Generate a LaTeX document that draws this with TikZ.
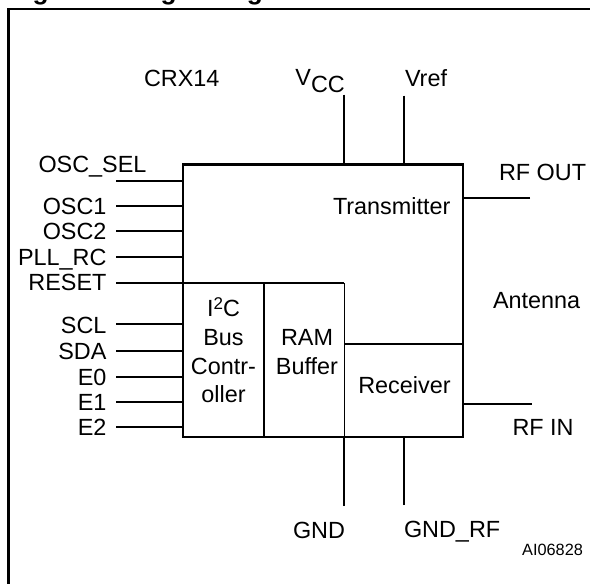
\documentclass[tikz,border=0pt]{standalone}
\usepackage{fontspec}
\setmainfont{Liberation Sans}
\begin{document}
\begin{tikzpicture}[x=1pt,y=-1pt,
  lbl/.style={font=\fontsize{23.4}{28.8}\selectfont, inner sep=0pt, outer sep=0pt},
  pin/.style={line width=1.9pt},
  blockbox/.style={draw, line width=1.6pt, inner sep=0pt, outer sep=0pt},
  chip/.style={draw, line width=2.8pt, inner sep=0pt, outer sep=0pt, minimum width=280pt, minimum height=272.5pt},
  frame/.style={line width=2.2pt}
]
\useasboundingbox (0,0) rectangle (590,584);
\clip (0,0) rectangle (590,584);
% outer frame (runs past the right and bottom edges)
\draw[frame] (8.5,700) |- (700,9);
% title, cut by the top edge
\node[anchor=base west, inner sep=0pt, font=\fontsize{26.3}{30}\selectfont\bfseries] (title) at (9,-0.6) {Figure 2. Logic Diagram};

% inner blocks
\node[blockbox, minimum width=81pt, minimum height=153.7pt] (i2c) at (223.5,360.15) {};
\node[blockbox, minimum width=80.3pt, minimum height=153.7pt] (ram) at (304.15,360.15) {};
\node[blockbox, minimum width=118.7pt, minimum height=93pt] (rx) at (403.65,390.5) {};
% chip outline
\node[chip] (chip) at (323,300.75) {};

% block texts
\node[lbl, anchor=north, align=center] (i2ctext) at (223.5,298) {I\raisebox{6.6pt}{\fontsize{17}{17}\selectfont 2}C\\Bus\\Contr-\\oller};
\node[lbl, anchor=north, align=center] (ramtext) at (307,329.2) {RAM\\Buffer};
\node[lbl, anchor=base] (rxtext) at (404.5,393.3) {Receiver};
\node[lbl, anchor=base west] (txtext) at (333,214) {Transmitter};
\node[lbl, anchor=base west] (crx) at (144,86.7) {CRX14};
\node[lbl, anchor=base west] (ant) at (493,308.3) {Antenna};
\node[font=\fontsize{16.3}{18}\selectfont, inner sep=0pt, anchor=base west] (code) at (522,555.7) {AI06828};

% left pins
\coordinate (poscsel) at (116,180.7);
\coordinate (posc1) at (116,206);
\coordinate (posc2) at (116,230.7);
\coordinate (ppll) at (116,256.7);
\coordinate (preset) at (116,283.3);
\coordinate (pscl) at (116,324);
\coordinate (psda) at (116,350.7);
\coordinate (pe0) at (116,377.3);
\coordinate (pe1) at (116,402.3);
\coordinate (pe2) at (116,427.3);
\foreach \p in {poscsel,posc1,posc2,ppll,pscl,psda,pe0,pe1,pe2}
  \draw[pin] (\p) -- (\p -| chip.west);
\draw[pin] (preset) -- (preset -| ram.east);

\node[lbl, anchor=base west] (loscsel) at (38.5,172.3) {OSC\_SEL};
\node[lbl, anchor=base east] (losc1) at (106.5,214) {OSC1};
\node[lbl, anchor=base east] (losc2) at (106.5,239) {OSC2};
\node[lbl, anchor=base east] (lpll) at (106.5,265) {PLL\_RC};
\node[lbl, anchor=base east] (lreset) at (106.5,290) {RESET};
\node[lbl, anchor=base east] (lscl) at (106.5,333.3) {SCL};
\node[lbl, anchor=base east] (lsda) at (106.5,359) {SDA};
\node[lbl, anchor=base east] (le0) at (106.5,385) {E0};
\node[lbl, anchor=base east] (le1) at (106.5,410) {E1};
\node[lbl, anchor=base east] (le2) at (106.5,435) {E2};

% top pins
\coordinate (pvcc) at (344.3,94.5);
\coordinate (pvref) at (404.3,95.5);
\draw[pin] (pvcc) -- (pvcc |- chip.north);
\draw[pin] (pvref) -- (pvref |- chip.north);
\node[lbl, anchor=base east] (lvcc) at (344.8,85) {V\raisebox{-7.3pt}{CC}};
\node[lbl, anchor=base west] (lvref) at (405,86.7) {Vref};

% right pins
\coordinate (prfout) at (530,197.7);
\coordinate (prfin) at (531.5,404);
\draw[pin] (prfout) -- (prfout -| chip.east);
\draw[pin] (prfin) -- (prfin -| chip.east);
\node[lbl, anchor=base west] (lrfout) at (499,180) {RF OUT};
\node[lbl, anchor=base west] (lrfin) at (512.5,435.7) {RF IN};

% bottom pins
\coordinate (pgnd) at (344.3,506);
\coordinate (pgndrf) at (404.3,505);
\draw[pin] (pgnd) -- (pgnd |- chip.south);
\draw[pin] (pgndrf) -- (pgndrf |- chip.south);
\node[lbl, anchor=base east] (lgnd) at (345,538.3) {GND};
\node[lbl, anchor=base west] (lgndrf) at (404,537) {GND\_RF};
\end{tikzpicture}
\end{document}
